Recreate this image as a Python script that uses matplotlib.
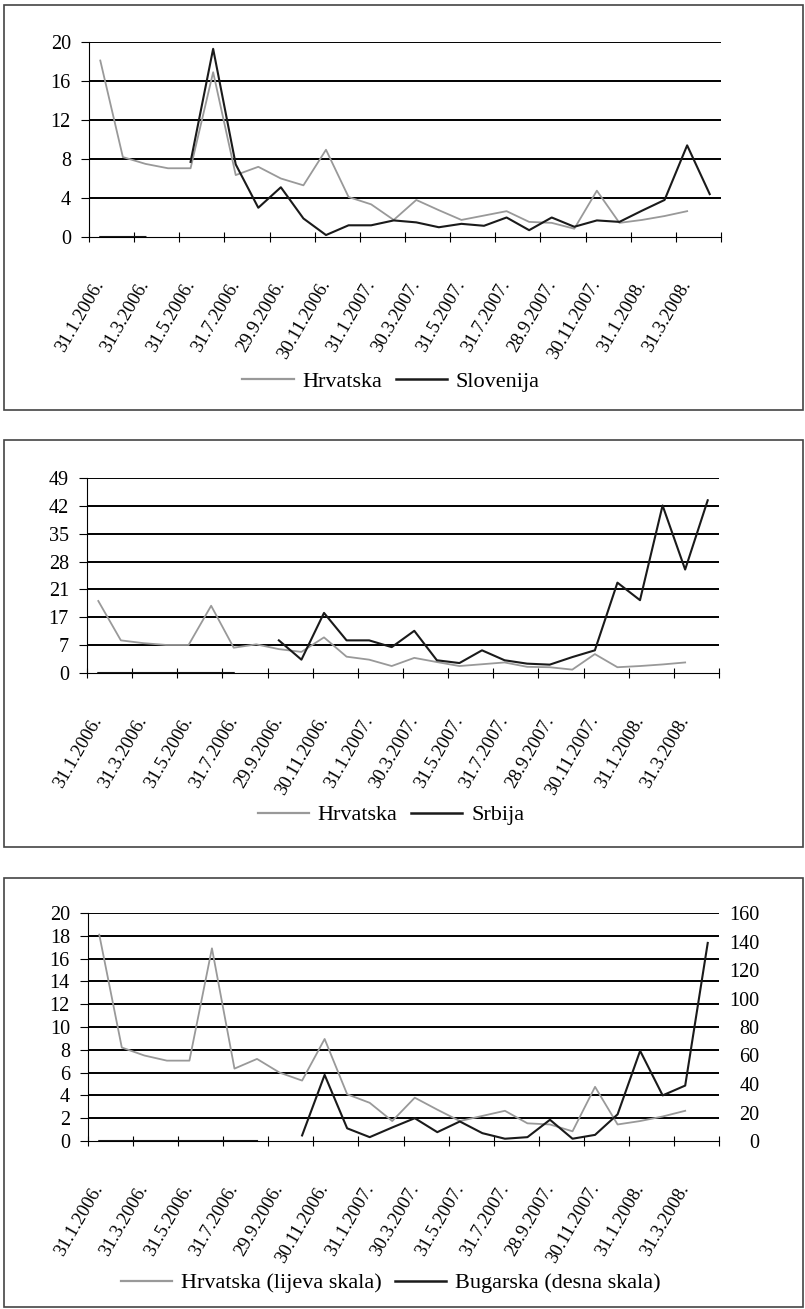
import numpy as np
import matplotlib.pyplot as plt
from matplotlib.patches import Rectangle
from matplotlib.lines import Line2D

plt.rcParams['font.family'] = ['Liberation Serif', 'DejaVu Serif']

nan = np.nan

# monthly observations, Jan 2006 .. Apr 2008 (28 months), labels every 2nd month
date_labels = ['31.1.2006.', '31.3.2006.', '31.5.2006.', '31.7.2006.', '29.9.2006.',
               '30.11.2006.', '31.1.2007.', '30.3.2007.', '31.5.2007.', '31.7.2007.',
               '28.9.2007.', '30.11.2007.', '31.1.2008.', '31.3.2008.']

hrvatska = [18.1, 8.2, 7.5, 7.05, 7.05, 16.9, 6.35, 7.2, 6.0, 5.3, 8.95, 4.1, 3.35, 1.75,
            3.8, 2.75, 1.75, 2.2, 2.65, 1.55, 1.45, 0.85, 4.75, 1.45, 1.75, 2.15, 2.65, nan]
slovenija = [0, 0, 0, nan, 7.7, 19.3, 7.45, 3.0, 5.1, 1.9, 0.2, 1.2, 1.2, 1.7,
             1.5, 1.0, 1.35, 1.15, 2.0, 0.7, 2.0, 1.05, 1.7, 1.55, 2.7, 3.8, 9.4, 4.4]
srbija = [0, 0, 0, 0, 0, 0, 0, nan, 8.2, 3.35, 15.1, 8.2, 8.2, 6.5,
          10.6, 3.2, 2.5, 5.7, 3.2, 2.35, 2.1, 4.0, 5.7, 22.7, 18.3, 42.1, 26.0, 43.4]
bugarska = [0, 0, 0, 0, 0, 0, 0, 0, nan, 3.9, 46.4, 8.9, 2.7, 9.5,
            16.0, 6.2, 13.7, 5.5, 1.6, 2.7, 14.9, 1.6, 4.3, 18.7, 63.3, 32.0, 38.9, 139.0]

# y axis ticks (the "17" label is printed like that in the source)
slo_ticks = [0, 4, 8, 12, 16, 20]
srb_ticks = [0, 7, 14, 21, 28, 35, 42, 49]
srb_tick_labels = ['0', '7', '17', '21', '28', '35', '42', '49']
bug_left_ticks = list(range(0, 21, 2))
bug_right_ticks = list(range(0, 161, 20))

GRAY = '#999999'
BLACK = '#1a1a1a'

W, H = 805, 1309
fig = plt.figure(figsize=(W / 100, H / 100), dpi=100)


def px_axes(left, top, right, bottom):
    return fig.add_axes([left / W, 1 - bottom / H, (right - left) / W, (bottom - top) / H])


def px_box(top, bottom):
    fig.add_artist(Rectangle((4 / W, 1 - bottom / H), 799 / W, (bottom - top) / H,
                             transform=fig.transFigure, fill=False,
                             edgecolor='#444444', lw=1.2))


def style_axes(ax, yticks, ylabels=None):
    n = len(hrvatska)
    ax.set_xlim(-0.5, n - 0.5)
    ax.set_ylim(yticks[0], yticks[-1])
    for s in ['top', 'right']:
        ax.spines[s].set_visible(False)
    ax.spines['left'].set_linewidth(0.8)
    ax.spines['bottom'].set_linewidth(0.8)
    # tick marks on category boundaries, labels on category centres
    ax.set_xticks(np.arange(-0.5, n, 2))
    ax.set_xticklabels([])
    ax.set_xticks(np.arange(0, n, 2), minor=True)
    ax.set_xticklabels(date_labels, minor=True, rotation=60, ha='right', va='center',
                       rotation_mode='anchor', fontsize=13.5)
    ax.tick_params(axis='x', which='major', direction='inout', length=7, width=0.8)
    ax.tick_params(axis='x', which='minor', length=0, pad=32)
    ax.set_yticks(yticks)
    if ylabels is not None:
        ax.set_yticklabels(ylabels)
    ax.tick_params(axis='y', direction='out', length=6, width=0.8, pad=7, labelsize=14.5)
    ax.hlines(yticks[1:], 0, 1, transform=ax.get_yaxis_transform(), color='black',
              lw=1.4, zorder=1)


def legend(labels, y):
    handles = [Line2D([], [], color=GRAY, lw=1.6), Line2D([], [], color=BLACK, lw=1.8)]
    fig.legend(handles, labels, loc='center', bbox_to_anchor=(391 / W, 1 - y / H), ncol=2,
               frameon=False, fontsize=16, handlelength=2.3, handletextpad=0.4,
               columnspacing=0.6)


x = np.arange(len(hrvatska))

# panel 1: Hrvatska / Slovenija
px_box(5, 410)
ax1 = px_axes(89, 42, 721, 237)
style_axes(ax1, slo_ticks)
ax1.plot(x, hrvatska, color=GRAY, lw=1.3, zorder=3)
ax1.plot(x, slovenija, color=BLACK, lw=1.5, zorder=4)
legend(['Hrvatska', 'Slovenija'], 382)

# panel 2: Hrvatska / Srbija
px_box(440, 847)
ax2 = px_axes(87, 478, 719, 673)
style_axes(ax2, srb_ticks, srb_tick_labels)
ax2.plot(x, hrvatska, color=GRAY, lw=1.3, zorder=3)
ax2.plot(x, srbija, color=BLACK, lw=1.5, zorder=4)
legend(['Hrvatska', 'Srbija'], 815)

# panel 3: Hrvatska (left scale) / Bugarska (right scale)
px_box(878, 1307)
ax3 = px_axes(88, 913, 719, 1141)
style_axes(ax3, bug_left_ticks)
ax3.plot(x, hrvatska, color=GRAY, lw=1.3, zorder=3)
ax3r = ax3.twinx()
ax3r.set_ylim(0, 160)
ax3r.set_yticks(bug_right_ticks)
ax3r.set_yticklabels([str(t) for t in bug_right_ticks], ha='right')
for s in ax3r.spines.values():
    s.set_visible(False)
ax3r.tick_params(axis='y', length=0, pad=29, labelsize=14.5)
ax3r.plot(x, bugarska, color=BLACK, lw=1.5)
legend(['Hrvatska (lijeva skala)', 'Bugarska (desna skala)'], 1283)

fig.savefig('out.png', dpi=100)
